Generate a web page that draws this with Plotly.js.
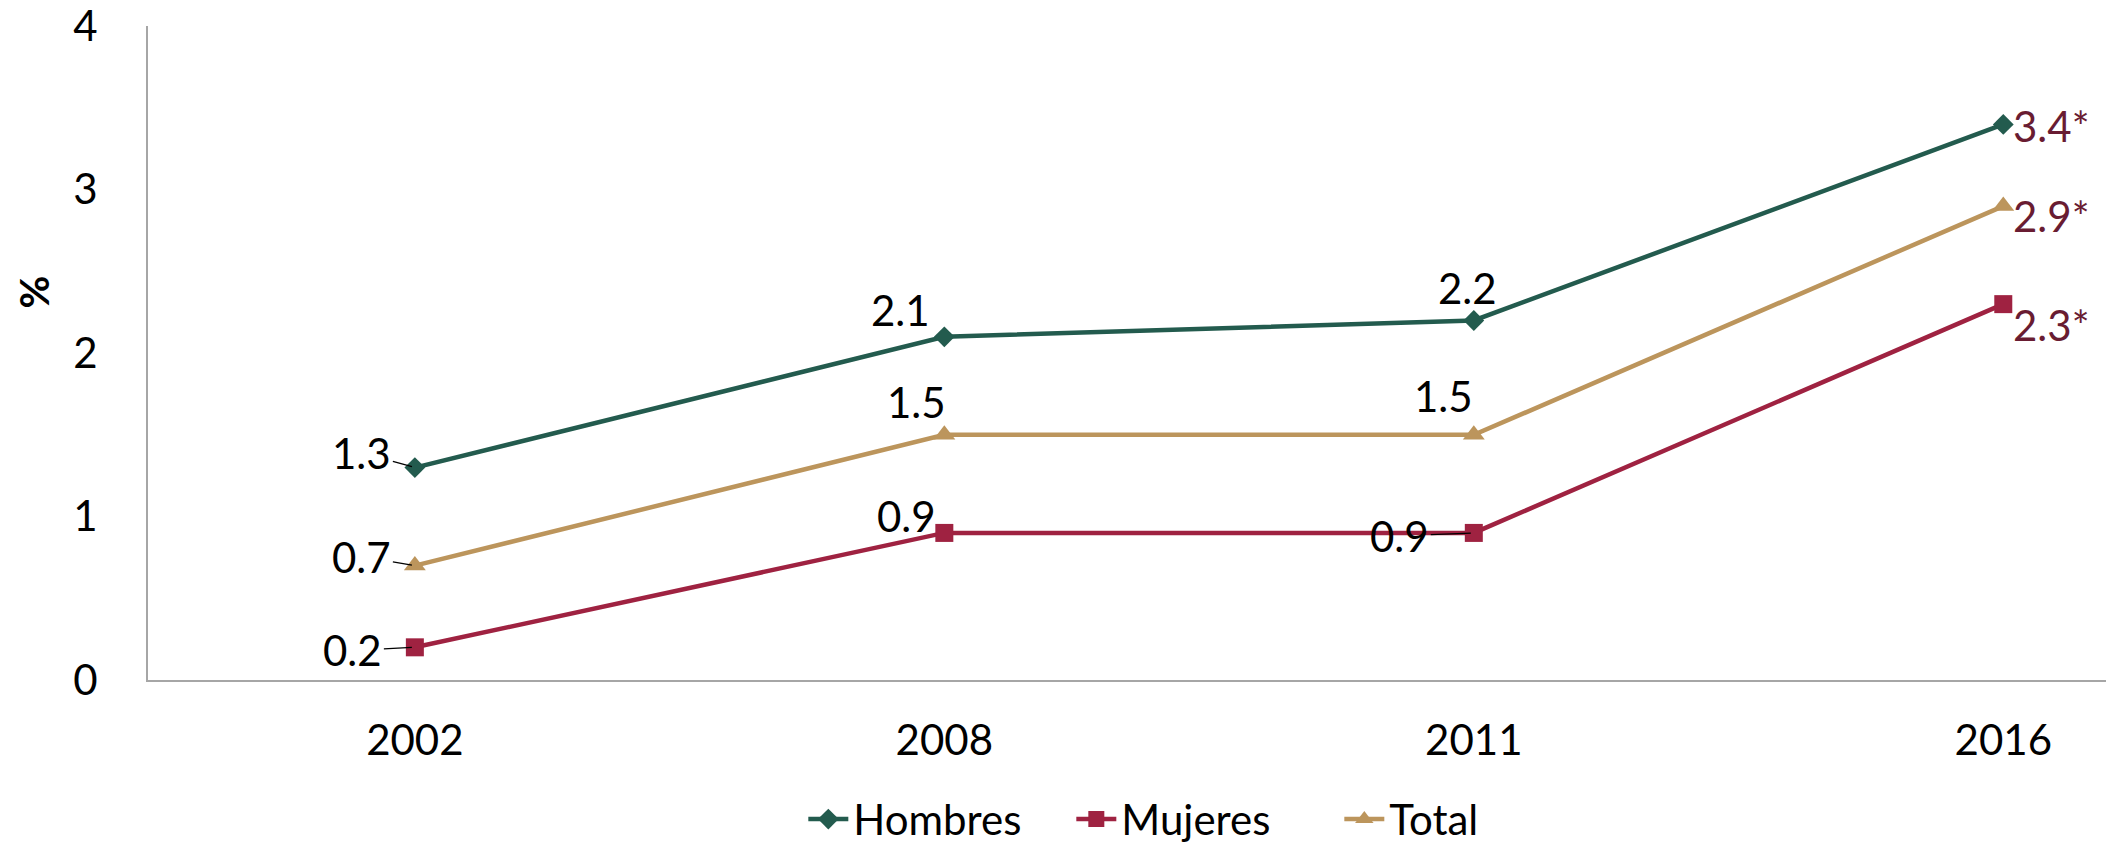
<!DOCTYPE html>
<html>
<head>
<meta charset="utf-8">
<script src="https://cdn.plot.ly/plotly-3.0.1.min.js"></script>
<style>
html,body{margin:0;padding:0;background:#fff;}
#chart{width:2106px;height:846px;}
</style>
</head>
<body>
<div id="chart"></div>
<script>
// ---- data ----
const years = ['2002', '2008', '2011', '2016'];
const hombres = [1.3, 2.1, 2.2, 3.4];
const mujeres = [0.2, 0.9, 0.9, 2.3];
const total = [0.7, 1.5, 1.5, 2.9];
const hombresLabels = ['1.3', '2.1', '2.2', '3.4*'];
const mujeresLabels = ['0.2', '0.9', '0.9', '2.3*'];
const totalLabels = ['0.7', '1.5', '1.5', '2.9*'];
const yTicks = [0, 1, 2, 3, 4];

// ---- styling ----
const FONT = 'Lato, "Open Sans", sans-serif';
const C_H = '#235B4E', C_M = '#9F2241', C_T = '#BC955C', C_STAR = '#691C32';
const FS = 42;

// label placement: [xshift, yshift, xanchor, leaderLine]
// (for leader-line labels the shifts are the label-centre offsets in px)
const posH = [[-53, 15, 'center', true], [-44, 27, 'center'], [-6, 32, 'center'], [8, -2, 'left']];
const posT = [[-53, 9, 'center', true], [-28, 33, 'center'], [-30, 39, 'center'], [8, -10, 'left']];
const posM = [[-62, -3, 'center', true], [-38, 17, 'center'], [-74, -3, 'center', true], [8, -21, 'left']];

function series(name, ys, color, symbol, size) {
  return {
    type: 'scatter', mode: 'lines+markers', name: name,
    x: years, y: ys,
    line: {color: color, width: 4.5},
    marker: {color: color, symbol: symbol, size: size},
    cliponaxis: false
  };
}

const data = [
  series('Hombres', hombres, C_H, 'diamond', 16),
  series('Mujeres', mujeres, C_M, 'square', 18),
  series('Total', total, C_T, 'triangle-up', 19)
];

const annotations = [];
function addLabels(ys, labels, pos) {
  ys.forEach((v, i) => {
    const star = labels[i].indexOf('*') >= 0;
    const p = pos[i];
    const a = {
      x: i, y: v, xref: 'x', yref: 'y',   // i = category index of years[i]
      text: labels[i],
      font: {family: FONT, size: FS, color: star ? C_STAR : '#000'}
    };
    if (p[3]) {
      Object.assign(a, {
        showarrow: true, ax: p[0], ay: -p[1], arrowhead: 0,
        arrowwidth: 1.3, arrowcolor: '#000', standoff: 3, startstandoff: 0
      });
    } else {
      Object.assign(a, {
        showarrow: false, xanchor: p[2], yanchor: 'middle',
        xshift: p[0], yshift: p[1]
      });
    }
    annotations.push(a);
  });
}
addLabels(hombres, hombresLabels, posH);
addLabels(total, totalLabels, posT);
addLabels(mujeres, mujeresLabels, posM);

annotations.push({
  xref: 'paper', yref: 'paper', x: -0.058, y: 0.593,
  text: '<b>%</b>', showarrow: false, textangle: -90,
  xanchor: 'center', yanchor: 'middle',
  font: {family: FONT, size: 40, color: '#000'}
});

const layout = {
  width: 2106, height: 846,
  margin: {l: 148, r: 0, t: 26, b: 166, pad: 0, autoexpand: false},
  paper_bgcolor: '#ffffff', plot_bgcolor: 'rgba(0,0,0,0)',
  font: {family: FONT, size: FS, color: '#000'},
  showlegend: true,
  legend: {
    orientation: 'h', x: 0.54, xanchor: 'center', y: -0.213, yanchor: 'middle',
    font: {family: FONT, size: FS, color: '#000'},
    bgcolor: 'rgba(0,0,0,0)', itemwidth: 40, entrywidth: 213
  },
  xaxis: {
    type: 'category', range: [-0.504, 3.194],
    showline: true, linecolor: '#a6a6a6', linewidth: 2,
    showgrid: false, zeroline: false, ticks: '',
    ticklabelstandoff: 23,
    tickfont: {family: FONT, size: FS, color: '#000'}
  },
  yaxis: {
    range: [0, 4.002], tickvals: yTicks, ticktext: yTicks.map(String),
    showline: true, linecolor: '#a6a6a6', linewidth: 2,
    showgrid: false, zeroline: false, ticks: '',
    ticklabelstandoff: 40, ticklabeloverflow: 'allow',
    tickfont: {family: FONT, size: FS, color: '#000'}
  },
  annotations: annotations
};

Plotly.newPlot('chart', data, layout, {displayModeBar: false, responsive: false});
</script>
</body>
</html>
